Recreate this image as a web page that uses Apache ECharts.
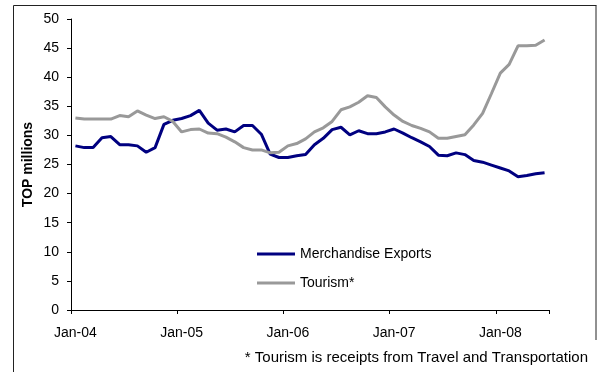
<!DOCTYPE html>
<html>
<head>
<meta charset="utf-8">
<script src="https://cdn.jsdelivr.net/npm/echarts@6/dist/echarts.min.js"></script>
<style>
html,body{margin:0;padding:0;background:#fff;}
#chart{width:597px;height:372px;}
</style>
</head>
<body>
<div id="chart"></div>
<script>
var monthNames = ['Jan','Feb','Mar','Apr','May','Jun','Jul','Aug','Sep','Oct','Nov','Dec'];
var years = ['04','05','06','07','08'];
var categories = [];
years.forEach(function (y) {
  monthNames.forEach(function (m) { categories.push(m + '-' + y); });
});
categories = categories.slice(0, 54); // Jan-04 .. Jun-08

var merchandiseExports = [
  28.2, 27.9, 27.9, 29.6, 29.8, 28.4, 28.4, 28.2, 27.1, 27.9, 31.9, 32.6,
  32.9, 33.4, 34.3, 32.1, 30.9, 31.1, 30.6, 31.7, 31.7, 30.2, 26.8, 26.2,
  26.2, 26.5, 26.7, 28.4, 29.5, 31.0, 31.4, 30.1, 30.8, 30.3, 30.3, 30.6,
  31.1, 30.4, 29.6, 28.9, 28.1, 26.6, 26.5, 27.0, 26.7, 25.7, 25.4, 24.9,
  24.4, 23.9, 22.9, 23.1, 23.4, 23.6
];
var tourism = [
  33.0, 32.8, 32.8, 32.8, 32.8, 33.4, 33.2, 34.2, 33.5, 32.9, 33.2, 32.4,
  30.6, 31.0, 31.1, 30.4, 30.3, 29.7, 28.9, 27.9, 27.5, 27.5, 27.0, 27.1,
  28.2, 28.6, 29.4, 30.6, 31.3, 32.4, 34.4, 34.9, 35.7, 36.8, 36.5, 34.9,
  33.5, 32.4, 31.7, 31.2, 30.6, 29.5, 29.5, 29.8, 30.1, 31.8, 33.8, 37.2,
  40.7, 42.2, 45.4, 45.4, 45.5, 46.4
];
var seriesNames = ['Merchandise Exports', 'Tourism*'];
var yTitle = 'TOP millions';
var footnote = '* Tourism is receipts from Travel and Transportation';

var chart = echarts.init(document.getElementById('chart'), null, {renderer: 'canvas'});
var font = 'Liberation Sans, Arial, sans-serif';
chart.setOption({
  animation: false,
  backgroundColor: '#fff',
  textStyle: {fontFamily: font},
  grid: {left: 71, top: 19, right: 48, bottom: 62, containLabel: false},
  legend: {
    orient: 'vertical',
    left: 252, top: 242,
    itemWidth: 38, itemHeight: 3, itemGap: 15,
    icon: 'rect',
    textStyle: {fontSize: 14, color: '#000', fontFamily: font},
    data: seriesNames
  },
  xAxis: {
    type: 'category',
    data: categories,
    boundaryGap: true,
    axisLine: {lineStyle: {color: '#000', width: 1}},
    axisTick: {show: true, interval: 11, length: 4, lineStyle: {color: '#000'}},
    axisLabel: {interval: 11, color: '#000', fontSize: 14, margin: 16, fontFamily: font},
    splitLine: {show: false}
  },
  yAxis: {
    type: 'value',
    min: 0, max: 50, interval: 5,
    name: yTitle,
    nameLocation: 'middle',
    nameGap: 36,
    nameMoveOverlap: false,
    nameTextStyle: {fontSize: 14, fontWeight: 'bold', color: '#000', fontFamily: font},
    axisLine: {show: true, lineStyle: {color: '#000', width: 1}},
    axisTick: {show: true, length: 4, lineStyle: {color: '#000'}},
    axisLabel: {color: '#000', fontSize: 14, margin: 12, fontFamily: font},
    splitLine: {show: false}
  },
  series: [
    {
      name: seriesNames[0], type: 'line', data: merchandiseExports,
      symbol: 'none', lineStyle: {color: '#000080', width: 3}, itemStyle: {color: '#000080'}
    },
    {
      name: seriesNames[1], type: 'line', data: tourism,
      symbol: 'none', lineStyle: {color: '#999999', width: 3}, itemStyle: {color: '#999999'}
    }
  ],
  graphic: [
    {type: 'line', shape: {x1: 13.5, y1: 5.5, x2: 596.5, y2: 5.5}, style: {stroke: '#222', lineWidth: 1}, silent: true},
    {type: 'line', shape: {x1: 13.5, y1: 5.5, x2: 13.5, y2: 372}, style: {stroke: '#222', lineWidth: 1}, silent: true},
    {type: 'line', shape: {x1: 596, y1: 5.5, x2: 596, y2: 340}, style: {stroke: '#222', lineWidth: 1}, silent: true},
    {type: 'text', right: 9, top: 350, style: {text: footnote, fill: '#000', font: '15px ' + font}, silent: true}
  ]
});
</script>
</body>
</html>
